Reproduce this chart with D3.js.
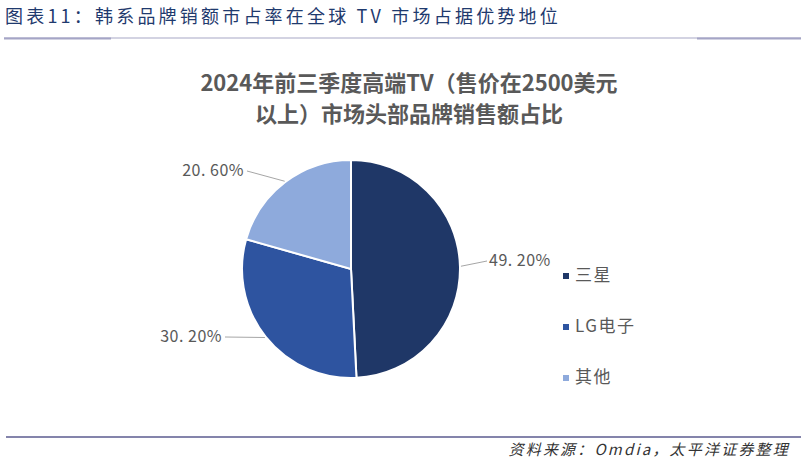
<!DOCTYPE html>
<html>
<head>
<meta charset="utf-8">
<script src="https://cdn.jsdelivr.net/npm/d3@7"></script>
<style>
  body { margin: 0; background: #fff; }
  svg text { font-family: "Noto Sans CJK SC", "Noto Sans", sans-serif; }
</style>
</head>
<body>
<svg id="chart" width="805" height="464"></svg>
<script>
// data
const brands = ['三星', 'LG电子', '其他'];
const shares = [49.2, 30.2, 20.6];
const colors = ['#1f3767', '#2e54a0', '#8eaadc'];
const heading = '图表11：韩系品牌销额市占率在全球 TV 市场占据优势地位';
const titleLines = ['2024年前三季度高端TV（售价在2500美元', '以上）市场头部品牌销售额占比'];
const source = '资料来源：Omdia，太平洋证券整理';

const svg = d3.select('#chart');

// header
svg.append('text')
  .attr('x', 5).attr('y', 23)
  .attr('font-size', 18).attr('letter-spacing', 3.2)
  .attr('fill', '#1f3a6e')
  .text(heading);

svg.append('line').attr('x1', 4).attr('x2', 801).attr('y1', 38).attr('y2', 38)
  .attr('stroke', '#c4c4d8').attr('stroke-width', 1.5);
svg.append('line').attr('x1', 4).attr('x2', 111).attr('y1', 38.5).attr('y2', 38.5)
  .attr('stroke', '#a5a5c6').attr('stroke-width', 2);
svg.append('line').attr('x1', 697).attr('x2', 801).attr('y1', 38.5).attr('y2', 38.5)
  .attr('stroke', '#a5a5c6').attr('stroke-width', 2);

// chart title
const title = svg.append('text')
  .attr('text-anchor', 'middle')
  .attr('font-size', 22).attr('font-weight', 'bold')
  .attr('fill', '#595959');
titleLines.forEach((t, i) => {
  title.append('tspan').attr('x', 409).attr('y', 91 + i * 31).text(t);
});

// pie
const cx = 351, cy = 269, r = 109;
const data = brands.map((b, i) => ({ brand: b, value: shares[i], color: colors[i] }));
const pie = d3.pie().sort(null).value(d => d.value);
const arc = d3.arc().innerRadius(0).outerRadius(r);
const arcs = pie(data);

const g = svg.append('g').attr('transform', `translate(${cx},${cy})`);
g.selectAll('path')
  .data(arcs)
  .enter()
  .append('path')
  .attr('d', arc)
  .attr('fill', d => d.data.color)
  .attr('stroke', '#fff')
  .attr('stroke-width', 2);

// data labels with leader lines
const labelPos = [
  { x: 489, y: 266, anchor: 'start', lx: 487 },
  { x: 222, y: 342, anchor: 'end', lx: 225 },
  { x: 244, y: 176, anchor: 'end', lx: 247 }
];
arcs.forEach((a, i) => {
  const mid = (a.startAngle + a.endAngle) / 2;
  const ex = cx + Math.sin(mid) * (r + 1);
  const ey = cy - Math.cos(mid) * (r + 1);
  const p = labelPos[i];
  svg.append('polyline')
    .attr('points', `${ex},${ey} ${p.lx},${p.y - 5}`)
    .attr('fill', 'none').attr('stroke', '#a6a6a6').attr('stroke-width', 1);
  svg.append('text')
    .attr('x', p.x).attr('y', p.y)
    .attr('text-anchor', p.anchor)
    .attr('font-size', 16).attr('letter-spacing', 0.5)
    .attr('fill', '#595959')
    .text(shares[i].toFixed(2).replace('.', '. ') + '%');
});

// legend
const legendY = d3.scalePoint().domain(brands).range([281, 383]);
const leg = svg.append('g').selectAll('g').data(data).enter().append('g')
  .attr('transform', d => `translate(563,${legendY(d.brand)})`);
leg.append('rect').attr('x', 0).attr('y', -8).attr('width', 6).attr('height', 6)
  .attr('fill', d => d.color);
leg.append('text').attr('x', 12).attr('y', 0)
  .attr('font-size', 17).attr('fill', '#595959').attr('letter-spacing', 1.5)
  .text(d => d.brand);

// bottom rule and source
svg.append('line').attr('x1', 6).attr('x2', 801).attr('y1', 437).attr('y2', 437)
  .attr('stroke', '#5b5b8f').attr('stroke-width', 1.5);
svg.append('text')
  .attr('x', 790).attr('y', 455).attr('text-anchor', 'end')
  .attr('font-size', 15).attr('font-style', 'italic').attr('letter-spacing', 2.2)
  .attr('fill', '#333')
  .text(source);
</script>
</body>
</html>
